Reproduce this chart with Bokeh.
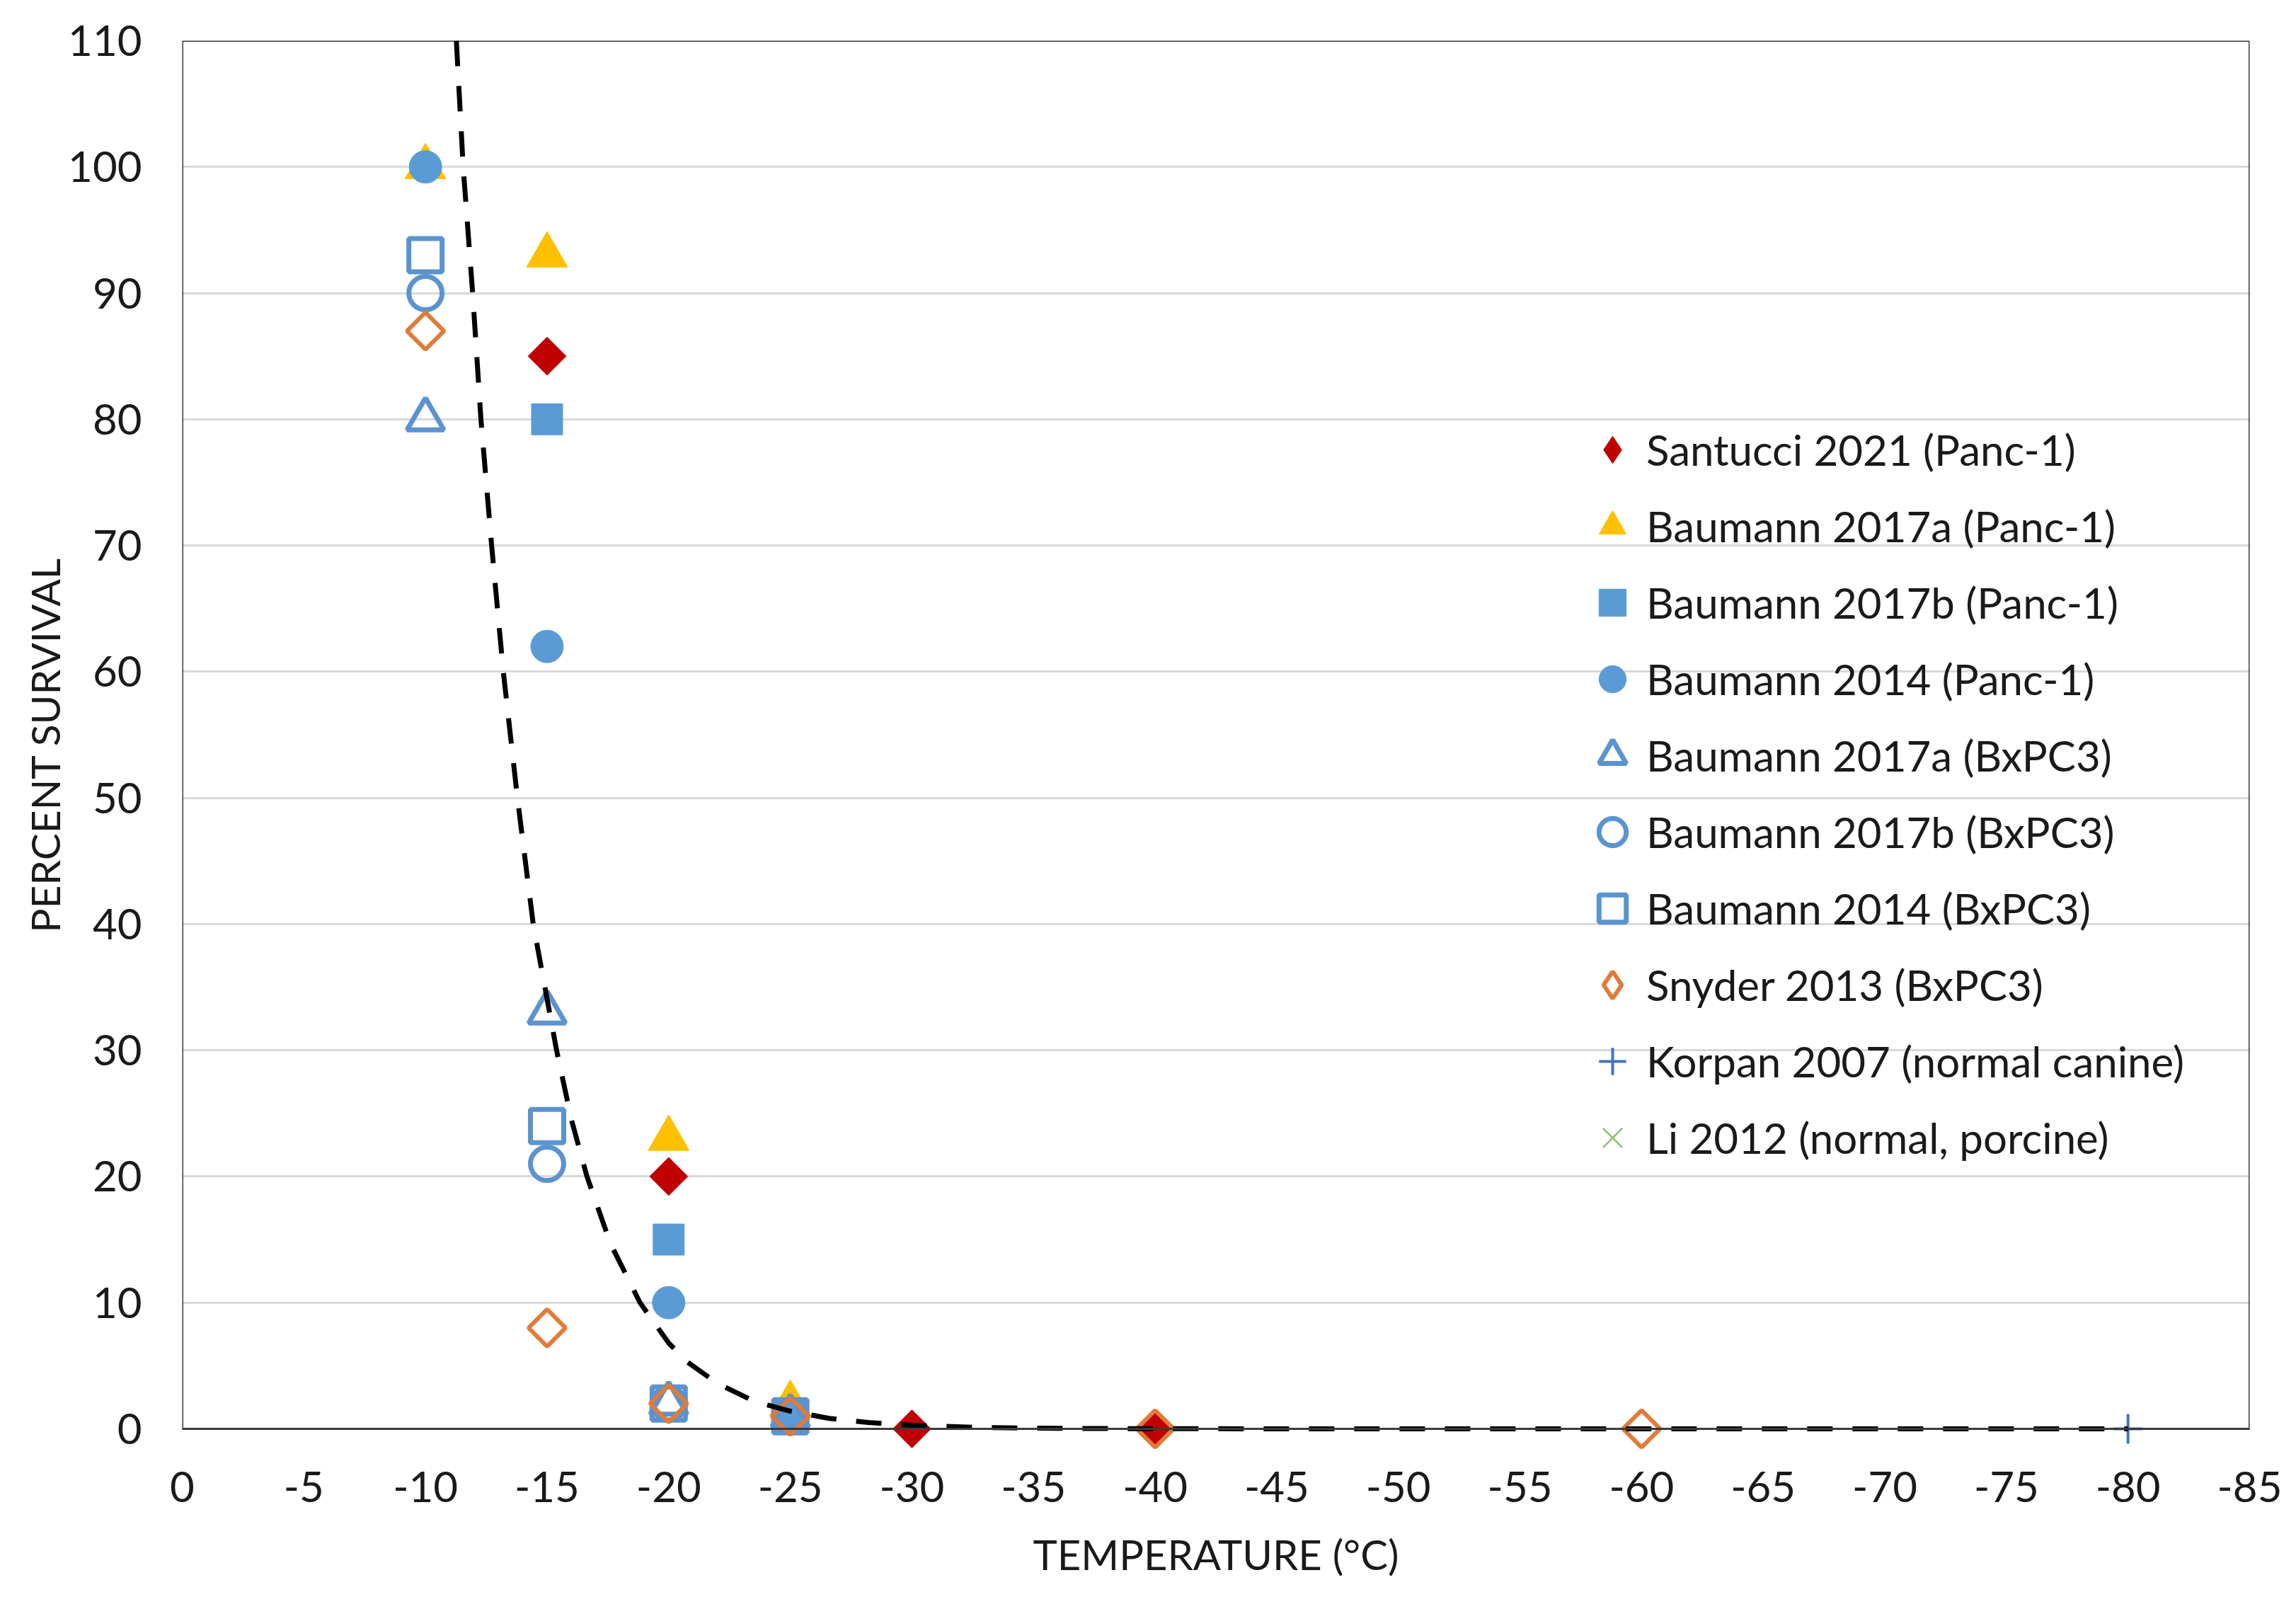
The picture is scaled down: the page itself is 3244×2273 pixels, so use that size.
import math
from bokeh.plotting import figure
from bokeh.models import Range1d, FixedTicker, Legend, LegendItem, Span, BoxAnnotation
from bokeh.embed import file_html
from bokeh.resources import INLINE

# ---------------- data ----------------
x_ticks = [0, -5, -10, -15, -20, -25, -30, -35, -40, -45, -50, -55, -60, -65, -70, -75, -80, -85]
x_tick_labels = ["0", "-5", "-10", "-15", "-20", "-25", "-30", "-35", "-40", "-45",
                 "-50", "-55", "-60", "-65", "-70", "-75", "-80", "-85"]
y_ticks = [0, 10, 20, 30, 40, 50, 60, 70, 80, 90, 100, 110]

santucci_t = [-15, -20, -30, -40]
santucci_s = [85, 20, 0, 0]
b17a_panc_t = [-10, -15, -20, -25]
b17a_panc_s = [100, 93, 23, 2]
b17b_panc_t = [-15, -20, -25]
b17b_panc_s = [80, 15, 1]
b14_panc_t = [-10, -15, -20, -25]
b14_panc_s = [100, 62, 10, 1]
b17a_bx_t = [-10, -15, -20, -25]
b17a_bx_s = [80, 33, 2, 1]
b17b_bx_t = [-10, -15, -20, -25]
b17b_bx_s = [90, 21, 2, 1]
b14_bx_t = [-10, -15, -20, -25]
b14_bx_s = [93, 24, 2, 1]
snyder_t = [-10, -15, -20, -25, -40, -60]
snyder_s = [87, 8, 2, 1, 0, 0]
korpan_t = [-80]
korpan_s = [0]
# no visible point for Li 2012 in the picture (legend entry only)
li_t = [float("nan")]
li_s = [float("nan")]

# dashed trend curve
trend_t = [-11.27, -11.55, -11.94, -12.28, -12.72, -13.2, -13.78, -14.43, -15.39, -16.0,
           -16.64, -17.6, -18.82, -20.0, -20.77, -22.0, -23.5, -25.0, -26.6, -28.2,
           -30.0, -33.0, -36.0, -40.0, -50.0, -60.0, -70.0, -80.0]
trend_s = [110, 100, 90, 80, 70, 60, 50, 40, 30, 24.5,
           20, 14.7, 10, 6.8, 5.3, 3.6, 2.2, 1.4, 0.83, 0.5,
           0.28, 0.1, 0.04, 0.01, 0, 0, 0, 0]

labels = ["Santucci 2021 (Panc-1)", "Baumann 2017a (Panc-1)", "Baumann 2017b (Panc-1)",
          "Baumann 2014 (Panc-1)", "Baumann 2017a (BxPC3)", "Baumann 2017b (BxPC3)",
          "Baumann 2014 (BxPC3)", "Snyder 2013 (BxPC3)", "Korpan 2007 (normal canine)",
          "Li 2012 (normal, porcine)"]

# axis extents
X_START, X_END = 0, -85
Y_START, Y_END = 0, 110
Y_PAD = 1.627   # extra room below 0 so markers at 0 are not cut by the frame

# ---------------- styling ----------------
FONT = "Lato"
TXT = "#1a1a1a"
RED = "#C00000"
YEL = "#FFC000"
BLUE = "#5B9BD5"
OBLUE = "#5B93CF"
ORANGE = "#E07B39"
KBLUE = "#4472C4"
GREEN = "#8DBF6A"
FRAME = "#3a3a3a"

p = figure(width=3228, height=2257, output_backend="svg", toolbar_location=None,
           x_range=Range1d(X_START, X_END), y_range=Range1d(Y_START - Y_PAD, Y_END),
           min_border_left=257, min_border_right=50, min_border_top=57, min_border_bottom=210)
p.background_fill_color = "white"
p.border_fill_color = "white"
p.outline_line_color = None

p.xgrid.grid_line_color = None
p.ygrid.grid_line_color = "#D9D9D9"
p.ygrid.grid_line_width = 3

for ax in (p.xaxis[0], p.yaxis[0]):
    ax.major_tick_out = 0
    ax.major_tick_in = 0
    ax.minor_tick_out = 0
    ax.minor_tick_in = 0
    ax.axis_line_color = None
    ax.major_label_text_font = FONT
    ax.major_label_text_font_size = "60px"
    ax.major_label_text_color = TXT
    ax.axis_label_text_font = FONT
    ax.axis_label_text_font_style = "normal"
    ax.axis_label_text_color = TXT

p.xaxis.axis_label_text_font_size = "58px"
p.yaxis.axis_label_text_font_size = "57px"
p.xaxis.ticker = FixedTicker(ticks=x_ticks)
p.xaxis.major_label_overrides = {t: l for t, l in zip(x_ticks, x_tick_labels)}
p.yaxis.ticker = FixedTicker(ticks=y_ticks)
p.xaxis.axis_label = "TEMPERATURE (°C)"
p.yaxis.axis_label = "PERCENT SURVIVAL"
p.xaxis.major_label_standoff = 31
p.xaxis.axis_label_standoff = 36
p.yaxis.major_label_standoff = 57
p.yaxis.axis_label_standoff = -4

# plot-area border drawn at the axis extents
p.add_layout(BoxAnnotation(left=X_START, right=X_END, bottom=Y_START, top=Y_END,
                           fill_alpha=0, line_color=FRAME, line_alpha=1, line_width=3,
                           level="underlay"))

D = math.pi / 4
r1 = p.scatter(santucci_t, santucci_s, marker="square", angle=D, size=38,
               fill_color=RED, line_color=RED, line_width=1)
r2 = p.scatter(b17a_panc_t, b17a_panc_s, marker="triangle", size=58,
               fill_color=YEL, line_color=YEL, line_width=1)
r3 = p.scatter(b17b_panc_t, b17b_panc_s, marker="square", size=44,
               fill_color=BLUE, line_color=BLUE, line_width=1)
r4 = p.scatter(b14_panc_t, b14_panc_s, marker="circle", size=46,
               fill_color=BLUE, line_color=BLUE, line_width=1)
r5 = p.scatter(b17a_bx_t, b17a_bx_s, marker="triangle", size=52,
               fill_color=None, line_color=OBLUE, line_width=7)
r6 = p.scatter(b17b_bx_t, b17b_bx_s, marker="circle", size=47,
               fill_color=None, line_color=OBLUE, line_width=7)
r7 = p.scatter(b14_bx_t, b14_bx_s, marker="square", size=47,
               fill_color=None, line_color=OBLUE, line_width=7)
r8 = p.scatter(snyder_t, snyder_s, marker="square", angle=D, size=37,
               fill_color=None, line_color=ORANGE, line_width=6)
r9 = p.scatter(korpan_t, korpan_s, marker="cross", size=42,
               line_color=KBLUE, line_width=4)
r10 = p.scatter(li_t, li_s, marker="x", size=42, line_color=GREEN, line_width=2.5)

# horizontal axis line at 0 (drawn over the markers, as in the original)
p.add_layout(Span(location=Y_START, dimension="width", line_color=FRAME, line_width=3))

p.line(trend_t, trend_s, line_color="black", line_width=7, line_dash="36 28")

# legend-only glyphs for the two diamond series (legend glyphs are not rotated)
nan_t = [float("nan")]
lg1 = p.scatter(nan_t, nan_t, marker="diamond", size=40,
                fill_color=RED, line_color=RED, line_width=1)
lg8 = p.scatter(nan_t, nan_t, marker="diamond", size=40,
                fill_color=None, line_color=ORANGE, line_width=6)

rs = [lg1, r2, r3, r4, r5, r6, r7, lg8, r9, r10]
legend = Legend(items=[LegendItem(label=l, renderers=[r]) for l, r in zip(labels, rs)],
                location=(1973, 386), orientation="vertical",
                glyph_width=96, glyph_height=108, spacing=0, label_standoff=0,
                padding=0, margin=0, border_line_color=None, background_fill_alpha=0,
                label_text_font=FONT, label_text_font_size="60px", label_text_color=TXT)
p.add_layout(legend)

open("out.html", "w").write(file_html(p, INLINE))
